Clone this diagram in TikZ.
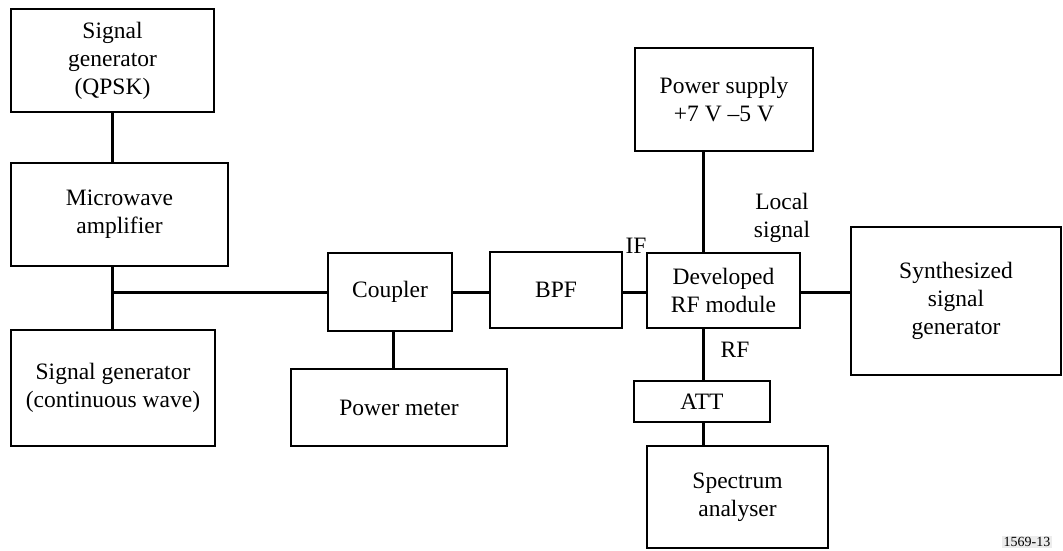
\documentclass[tikz,border=0pt]{standalone}
\usepackage{fontspec}
\setmainfont{Liberation Serif}
\usetikzlibrary{positioning}
\tikzset{
  unit/.style={draw,line width=1.6pt,align=center,inner sep=0pt,font=\fontsize{23.5}{28}\selectfont},
  link/.style={line width=3pt},
  tag/.style={align=center,inner sep=0pt,font=\fontsize{23.5}{28}\selectfont},
  figno/.style={fill=gray!15,inner sep=1.5pt,font=\fontsize{14}{16}\selectfont}
}
\begin{document}
\begin{tikzpicture}[x=1pt,y=-1pt]
  \useasboundingbox (0,0) rectangle (1063,550);
  % left column
  \node[unit,minimum width=203pt,minimum height=103pt] (qpsk) at (112.5,60.5) {Signal\\generator\\(QPSK)};
  \node[unit,minimum width=217pt,minimum height=103pt] (amp) at (119.5,214.5) {Microwave\\amplifier};
  \node[unit,minimum width=204pt,minimum height=116pt] (cw) at (113,388) {Signal generator\\(continuous wave)};
  % middle
  \node[unit,minimum width=124pt,minimum height=78pt] (coupler) at (390,292) {Coupler};
  \node[unit,minimum width=216pt,minimum height=77pt] (pmeter) at (399,407.5) {Power meter};
  \node[unit,minimum width=132pt,minimum height=76pt] (bpf) at (556,290) {BPF};
  % right part
  \node[unit,minimum width=153pt,minimum height=75pt] (rfmod) at (723.5,290.5) {Developed\\RF module};
  \node[unit,minimum width=178pt,minimum height=103pt] (psu) at (724,99.5) {Power supply\\+7 V --5 V};
  \node[unit,minimum width=210pt,minimum height=148pt] (synth) at (956,301) {Synthesized\\signal\\generator};
  \node[unit,minimum width=136pt,minimum height=41pt] (att) at (702,401.5) {ATT};
  \node[unit,minimum width=181pt,minimum height=102pt] (spec) at (737.5,497) {Spectrum\\analyser};

  \coordinate (jn) at (112,292);
  \coordinate (vx) at (703,0);
  \coordinate (cx) at (393,0);

  \draw[link] (qpsk.south -| jn) -- (amp.north -| jn);
  \draw[link] (amp.south -| jn) -- (cw.north -| jn);
  \draw[link] (jn) -- (jn -| coupler.west);
  \draw[link] (coupler.east |- jn) -- (bpf.west |- jn);
  \draw[link] (bpf.east |- jn) -- (rfmod.west |- jn);
  \draw[link] (rfmod.east |- jn) -- (synth.west |- jn);
  \draw[link] (coupler.south -| cx) -- (pmeter.north -| cx);
  \draw[link] (psu.south -| vx) -- (rfmod.north -| vx);
  \draw[link] (rfmod.south -| vx) -- (att.north -| vx);
  \draw[link] (att.south -| vx) -- (spec.north -| vx);

  \node[tag] (iflbl) at (636,246) {IF};
  \node[tag] (lolbl) at (782,218) {Local\\signal};
  \node[tag] (rflbl) at (735,350) {RF};
  \node[figno] (fig) at (1027,542) {1569-13};
\end{tikzpicture}
\end{document}
